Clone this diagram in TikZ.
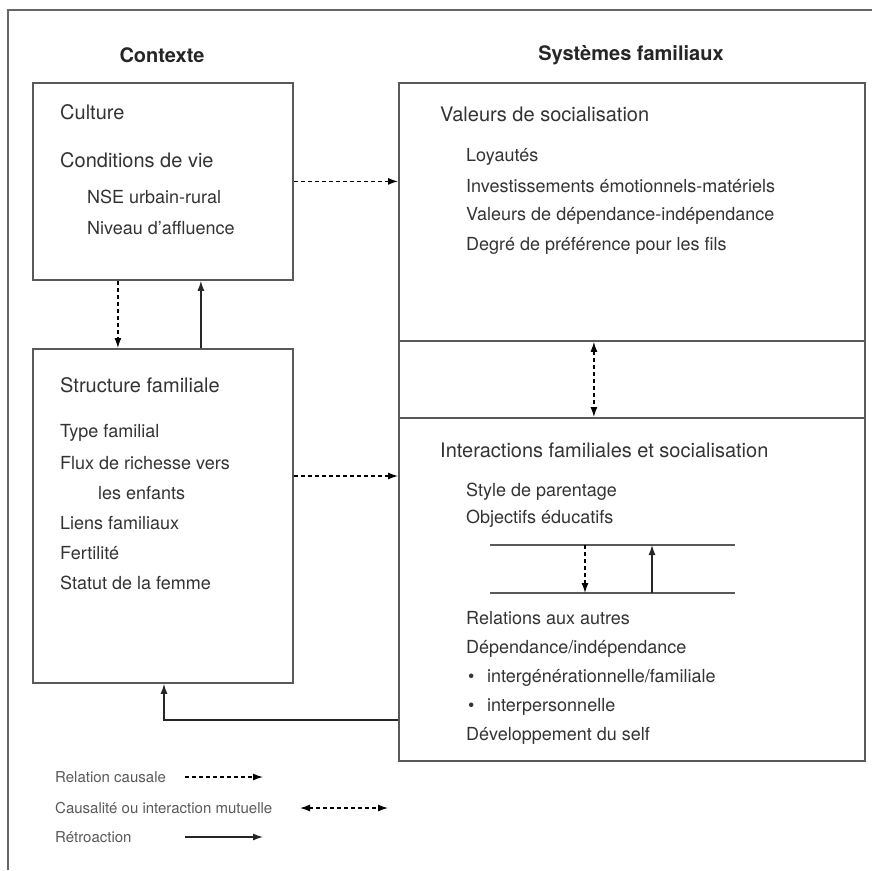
\documentclass[tikz,border=0pt]{standalone}
\usepackage{fontspec}
\setmainfont{TeX Gyre Heros}
\usetikzlibrary{arrows.meta}

\tikzset{
  frame/.style={draw=black!60, line width=2pt},
  box/.style={draw=black!65, line width=1.8pt, anchor=north west, inner sep=0pt},
  rule/.style={draw=black!65, line width=1.8pt},
  title/.style={font=\bfseries\fontsize{20}{24}\selectfont, text=black!85},
  head/.style={anchor=west, inner sep=0pt, font=\fontsize{20}{24}\selectfont, text=black!80},
  item/.style={anchor=west, inner sep=0pt, font=\fontsize{18}{22}\selectfont, text=black!80},
  legend/.style={anchor=west, inner sep=0pt, font=\fontsize{15}{18}\selectfont, text=black!65},
  tip/.style={-{Latex[length=10pt,width=7pt]}},
  causal/.style={black, line width=1.3pt, dash pattern=on 4pt off 3pt, tip},
  mutual/.style={black, line width=1.3pt, dash pattern=on 4pt off 3pt,
    {Latex[length=10pt,width=7pt]}-{Latex[length=10pt,width=7pt]}},
  feedback/.style={black!85, line width=1.3pt, tip}
}

\begin{document}
\begin{tikzpicture}[x=1pt,y=-1pt]
\useasboundingbox (0,0) rectangle (872,870);

\path (8,870) coordinate (FrameBL);
\path (8,10) coordinate (FrameTL);
\path (872,10) coordinate (FrameTR);

\path (292,476) coordinate (StructOut);
\path (164,720) coordinate (FbCorner);

\path (490,545) coordinate (UpL);
\path (735,545) coordinate (UpR);
\path (490,593) coordinate (LoL);
\path (735,593) coordinate (LoR);
\path (585,545) coordinate (DashT);
\path (585,593) coordinate (DashB);
\path (652,545) coordinate (FbT);
\path (652,593) coordinate (FbB);

\path (185,777) coordinate (LegA1);
\path (263,777) coordinate (LegA2);
\path (300,808) coordinate (LegB1);
\path (388,808) coordinate (LegB2);
\path (185,837) coordinate (LegC1);
\path (263,837) coordinate (LegC2);

\draw [frame] (FrameBL) -- (FrameTL) -- (FrameTR);

% titles
\node [title] (contexte) at (162,55) {Contexte};
\node [title] (systemes) at (631,55) {Systèmes familiaux};

% boxes
\node [box, minimum width=260pt, minimum height=197pt] (culture) at (32,82) {};
\node [box, minimum width=260pt, minimum height=334pt] (structure) at (32,348) {};
\node [box, minimum width=466pt, minimum height=258pt] (valeurs) at (398,82) {};
\node [box, minimum width=466pt, minimum height=77pt] (milieu) at (398,340) {};
\node [box, minimum width=466pt, minimum height=343pt] (interactions) at (398,417) {};

% context texts
\node [head] (cultureT) at (60,112) {Culture};
\node [head] (conditionsT) at (60,160) {Conditions de vie};
\node [item] (nseT) at (87,197) {NSE urbain-rural};
\node [item] (affluenceT) at (87,228) {Niveau d’affluence};

\node [head] (structureT) at (60,385) {Structure familiale};
\node [item] (typeT) at (60,433) {Type familial};
\node [item] (fluxT) at (60,463) {Flux de richesse vers};
\node [item] (enfantsT) at (98,493) {les enfants};
\node [item] (liensT) at (60,523) {Liens familiaux};
\node [item] (fertiliteT) at (60,553) {Fertilité};
\node [item] (statutT) at (60,583) {Statut de la femme};

% family system texts
\node [head] (valeursT) at (440,114) {Valeurs de socialisation};
\node [item] (loyautesT) at (466,157) {Loyautés};
\node [item] (investT) at (466,186) {Investissements émotionnels-matériels};
\node [item] (dependT) at (466,216) {Valeurs de dépendance-indépendance};
\node [item] (degreT) at (466,246) {Degré de préférence pour les fils};

\node [head] (interactionsT) at (440,450) {Interactions familiales et socialisation};
\node [item] (styleT) at (466,492) {Style de parentage};
\node [item] (objectifsT) at (466,519) {Objectifs éducatifs};
\node [item] (relationsT) at (466,618) {Relations aux autres};
\node [item] (dependanceT) at (466,649) {Dépendance/indépendance};
\node [item] (bulletA) at (468,678) {•};
\node [item] (intergenT) at (487,678) {intergénérationnelle/familiale};
\node [item] (bulletB) at (468,707) {•};
\node [item] (interpersT) at (487,707) {interpersonnelle};
\node [item] (selfT) at (466,736) {Développement du self};

\draw [rule] (UpL) -- (UpR);
\draw [rule] (LoL) -- (LoR);
\draw [causal] (DashT) -- (DashB);
\draw [feedback] (FbB) -- (FbT);

% links between boxes
\draw [causal] (culture.east) -- (culture.east -| valeurs.west);
\draw [causal] (structure.east |- StructOut) -- (interactions.west |- StructOut);
\draw [causal] ([xshift=-45pt]culture.south) -- ([xshift=-45pt]structure.north);
\draw [feedback] ([xshift=38pt]structure.north) -- ([xshift=38pt]culture.south);
\draw [mutual] ([xshift=-38pt]valeurs.south) -- ([xshift=-38pt]interactions.north);
\draw [feedback] (interactions.west |- FbCorner) -- (FbCorner) -- (FbCorner |- structure.south);

% legend
\node [legend] (legCausal) at (55,777) {Relation causale};
\node [legend] (legMutual) at (55,808) {Causalité ou interaction mutuelle};
\node [legend] (legFeedback) at (55,837) {Rétroaction};
\draw [causal] (LegA1) -- (LegA2);
\draw [mutual] (LegB1) -- (LegB2);
\draw [feedback] (LegC1) -- (LegC2);
\end{tikzpicture}
\end{document}
